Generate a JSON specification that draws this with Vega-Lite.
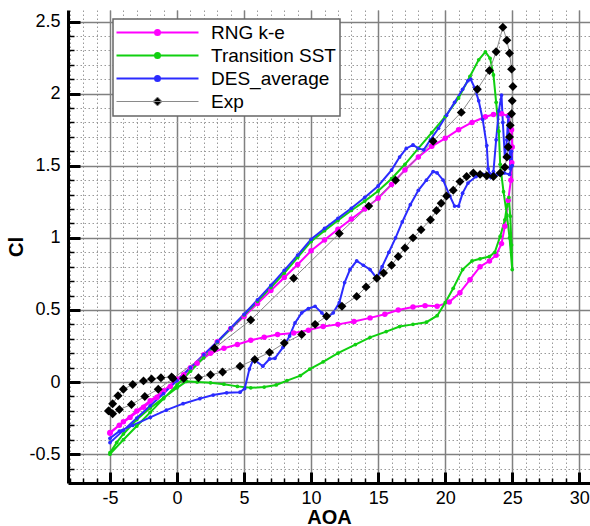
{
"$schema":"https://vega.github.io/schema/vega-lite/v6.json",
"width":522,"height":473,
"autosize":{"type":"none"},
"padding":{"left":68,"top":10,"right":0,"bottom":43},
"config":{"view":{"stroke":null},"font":"Liberation Sans"},
"datasets":{"d":[
{"s":"RNG k-e","i":0,"x":-5,"y":-0.35},{"s":"RNG k-e","i":1,"x":-4,"y":-0.275},{"s":"RNG k-e","i":2,"x":-3,"y":-0.2},{"s":"RNG k-e","i":3,"x":-2,"y":-0.13},{"s":"RNG k-e","i":4,"x":-1,"y":-0.06},{"s":"RNG k-e","i":5,"x":0,"y":0.02},{"s":"RNG k-e","i":6,"x":1,"y":0.1},{"s":"RNG k-e","i":7,"x":2,"y":0.19},{"s":"RNG k-e","i":8,"x":3,"y":0.28},{"s":"RNG k-e","i":9,"x":4,"y":0.37},{"s":"RNG k-e","i":10,"x":5,"y":0.455},{"s":"RNG k-e","i":11,"x":6,"y":0.545},{"s":"RNG k-e","i":12,"x":7,"y":0.635},{"s":"RNG k-e","i":13,"x":8,"y":0.725},{"s":"RNG k-e","i":14,"x":9,"y":0.815},{"s":"RNG k-e","i":15,"x":10,"y":0.91},{"s":"RNG k-e","i":16,"x":11,"y":0.985},{"s":"RNG k-e","i":17,"x":12,"y":1.06},{"s":"RNG k-e","i":18,"x":13,"y":1.13},{"s":"RNG k-e","i":19,"x":14,"y":1.2},{"s":"RNG k-e","i":20,"x":15,"y":1.275},{"s":"RNG k-e","i":21,"x":16,"y":1.37},{"s":"RNG k-e","i":22,"x":17,"y":1.47},{"s":"RNG k-e","i":23,"x":18,"y":1.56},{"s":"RNG k-e","i":24,"x":19,"y":1.635},{"s":"RNG k-e","i":25,"x":20,"y":1.69},{"s":"RNG k-e","i":26,"x":21,"y":1.75},{"s":"RNG k-e","i":27,"x":22,"y":1.8},{"s":"RNG k-e","i":28,"x":23,"y":1.84},{"s":"RNG k-e","i":29,"x":23.6,"y":1.855},{"s":"RNG k-e","i":30,"x":24.2,"y":1.86},{"s":"RNG k-e","i":31,"x":24.7,"y":1.845},
{"s":"RNG k-e","i":32,"x":24.95,"y":1.75},{"s":"RNG k-e","i":33,"x":25,"y":1.63},{"s":"RNG k-e","i":34,"x":24.97,"y":1.52},{"s":"RNG k-e","i":35,"x":24.9,"y":1.4},{"s":"RNG k-e","i":36,"x":24.7,"y":1.26},{"s":"RNG k-e","i":37,"x":24.45,"y":1.08},{"s":"RNG k-e","i":38,"x":24.2,"y":0.96},{"s":"RNG k-e","i":39,"x":23.8,"y":0.88},{"s":"RNG k-e","i":40,"x":23.3,"y":0.84},{"s":"RNG k-e","i":41,"x":22.6,"y":0.8},{"s":"RNG k-e","i":42,"x":21.85,"y":0.71},{"s":"RNG k-e","i":43,"x":21.1,"y":0.62},{"s":"RNG k-e","i":44,"x":20.3,"y":0.555},{"s":"RNG k-e","i":45,"x":19.4,"y":0.525},{"s":"RNG k-e","i":46,"x":18.5,"y":0.53},{"s":"RNG k-e","i":47,"x":17.6,"y":0.52},{"s":"RNG k-e","i":48,"x":16.5,"y":0.5},{"s":"RNG k-e","i":49,"x":15.5,"y":0.47},{"s":"RNG k-e","i":50,"x":14.4,"y":0.445},{"s":"RNG k-e","i":51,"x":13.2,"y":0.42},{"s":"RNG k-e","i":52,"x":12,"y":0.4},{"s":"RNG k-e","i":53,"x":10.9,"y":0.385},{"s":"RNG k-e","i":54,"x":9.8,"y":0.36},{"s":"RNG k-e","i":55,"x":8.7,"y":0.34},{"s":"RNG k-e","i":56,"x":7.5,"y":0.33},{"s":"RNG k-e","i":57,"x":6.5,"y":0.31},{"s":"RNG k-e","i":58,"x":5.5,"y":0.29},{"s":"RNG k-e","i":59,"x":4.5,"y":0.26},{"s":"RNG k-e","i":60,"x":3.5,"y":0.235},{"s":"RNG k-e","i":61,"x":2.5,"y":0.2},{"s":"RNG k-e","i":62,"x":1.5,"y":0.13},{"s":"RNG k-e","i":63,"x":0.5,"y":0.05},{"s":"RNG k-e","i":64,"x":-0.5,"y":-0.03},{"s":"RNG k-e","i":65,"x":-1.5,"y":-0.105},{"s":"RNG k-e","i":66,"x":-2.5,"y":-0.175},{"s":"RNG k-e","i":67,"x":-3.5,"y":-0.245},{"s":"RNG k-e","i":68,"x":-4.3,"y":-0.3},{"s":"RNG k-e","i":69,"x":-5,"y":-0.355},
{"s":"Transition SST","i":0,"x":-5,"y":-0.5},{"s":"Transition SST","i":1,"x":-4,"y":-0.4},{"s":"Transition SST","i":2,"x":-3,"y":-0.305},{"s":"Transition SST","i":3,"x":-2,"y":-0.21},{"s":"Transition SST","i":4,"x":-1,"y":-0.115},{"s":"Transition SST","i":5,"x":0,"y":-0.02},{"s":"Transition SST","i":6,"x":1,"y":0.075},{"s":"Transition SST","i":7,"x":2,"y":0.17},{"s":"Transition SST","i":8,"x":3,"y":0.275},{"s":"Transition SST","i":9,"x":4,"y":0.37},{"s":"Transition SST","i":10,"x":5,"y":0.465},{"s":"Transition SST","i":11,"x":6,"y":0.56},{"s":"Transition SST","i":12,"x":7,"y":0.655},{"s":"Transition SST","i":13,"x":8,"y":0.755},{"s":"Transition SST","i":14,"x":9,"y":0.865},{"s":"Transition SST","i":15,"x":10,"y":0.975},{"s":"Transition SST","i":16,"x":11,"y":1.05},{"s":"Transition SST","i":17,"x":12,"y":1.12},{"s":"Transition SST","i":18,"x":13,"y":1.19},{"s":"Transition SST","i":19,"x":14,"y":1.255},{"s":"Transition SST","i":20,"x":15,"y":1.325},{"s":"Transition SST","i":21,"x":16,"y":1.41},{"s":"Transition SST","i":22,"x":17,"y":1.51},{"s":"Transition SST","i":23,"x":18,"y":1.62},{"s":"Transition SST","i":24,"x":19,"y":1.73},{"s":"Transition SST","i":25,"x":20,"y":1.84},{"s":"Transition SST","i":26,"x":21,"y":1.97},{"s":"Transition SST","i":27,"x":21.85,"y":2.12},{"s":"Transition SST","i":28,"x":22.5,"y":2.235},{"s":"Transition SST","i":29,"x":23,"y":2.29},{"s":"Transition SST","i":30,"x":23.35,"y":2.245},{"s":"Transition SST","i":31,"x":23.6,"y":2.13},{"s":"Transition SST","i":32,"x":23.8,"y":1.94},{"s":"Transition SST","i":33,"x":24,"y":1.74},{"s":"Transition SST","i":34,"x":24.1,"y":1.51},{"s":"Transition SST","i":35,"x":24.35,"y":1.32},{"s":"Transition SST","i":36,"x":24.6,"y":1.16},{"s":"Transition SST","i":37,"x":24.8,"y":1.0},{"s":"Transition SST","i":38,"x":25,"y":0.78},
{"s":"Transition SST","i":39,"x":24.95,"y":0.95},{"s":"Transition SST","i":40,"x":24.85,"y":1.15},{"s":"Transition SST","i":41,"x":24.75,"y":1.28},{"s":"Transition SST","i":42,"x":24.6,"y":1.22},{"s":"Transition SST","i":43,"x":24.45,"y":1.125},{"s":"Transition SST","i":44,"x":24.1,"y":1.01},{"s":"Transition SST","i":45,"x":23.7,"y":0.9},{"s":"Transition SST","i":46,"x":23.3,"y":0.87},{"s":"Transition SST","i":47,"x":22.6,"y":0.855},{"s":"Transition SST","i":48,"x":22,"y":0.84},{"s":"Transition SST","i":49,"x":21.3,"y":0.78},{"s":"Transition SST","i":50,"x":20.6,"y":0.65},{"s":"Transition SST","i":51,"x":20,"y":0.55},{"s":"Transition SST","i":52,"x":19.4,"y":0.46},{"s":"Transition SST","i":53,"x":18.6,"y":0.415},{"s":"Transition SST","i":54,"x":17.6,"y":0.4},{"s":"Transition SST","i":55,"x":16.6,"y":0.385},{"s":"Transition SST","i":56,"x":15.6,"y":0.35},{"s":"Transition SST","i":57,"x":14.4,"y":0.31},{"s":"Transition SST","i":58,"x":13.3,"y":0.26},{"s":"Transition SST","i":59,"x":12,"y":0.2},{"s":"Transition SST","i":60,"x":10.9,"y":0.14},{"s":"Transition SST","i":61,"x":9.9,"y":0.09},{"s":"Transition SST","i":62,"x":9.2,"y":0.045},{"s":"Transition SST","i":63,"x":8.2,"y":0.01},{"s":"Transition SST","i":64,"x":7.4,"y":-0.02},{"s":"Transition SST","i":65,"x":6.5,"y":-0.035},{"s":"Transition SST","i":66,"x":5.5,"y":-0.04},{"s":"Transition SST","i":67,"x":4.5,"y":-0.03},{"s":"Transition SST","i":68,"x":3.5,"y":-0.015},{"s":"Transition SST","i":69,"x":2.5,"y":-0.005},{"s":"Transition SST","i":70,"x":1.5,"y":0.0},{"s":"Transition SST","i":71,"x":0.7,"y":0.005},{"s":"Transition SST","i":72,"x":0,"y":-0.04},{"s":"Transition SST","i":73,"x":-1,"y":-0.11},{"s":"Transition SST","i":74,"x":-2,"y":-0.18},{"s":"Transition SST","i":75,"x":-3,"y":-0.26},{"s":"Transition SST","i":76,"x":-4,"y":-0.36},{"s":"Transition SST","i":77,"x":-4.5,"y":-0.42},{"s":"Transition SST","i":78,"x":-5,"y":-0.49},
{"s":"DES_average","i":0,"x":-5,"y":-0.42},{"s":"DES_average","i":1,"x":-4,"y":-0.335},{"s":"DES_average","i":2,"x":-3,"y":-0.25},{"s":"DES_average","i":3,"x":-2,"y":-0.165},{"s":"DES_average","i":4,"x":-1,"y":-0.08},{"s":"DES_average","i":5,"x":0,"y":0.01},{"s":"DES_average","i":6,"x":1,"y":0.1},{"s":"DES_average","i":7,"x":2,"y":0.19},{"s":"DES_average","i":8,"x":3,"y":0.28},{"s":"DES_average","i":9,"x":4,"y":0.375},{"s":"DES_average","i":10,"x":5,"y":0.47},{"s":"DES_average","i":11,"x":6,"y":0.57},{"s":"DES_average","i":12,"x":7,"y":0.67},{"s":"DES_average","i":13,"x":8,"y":0.775},{"s":"DES_average","i":14,"x":9,"y":0.88},{"s":"DES_average","i":15,"x":10,"y":0.99},{"s":"DES_average","i":16,"x":11,"y":1.065},{"s":"DES_average","i":17,"x":12,"y":1.135},{"s":"DES_average","i":18,"x":13,"y":1.205},{"s":"DES_average","i":19,"x":14,"y":1.28},{"s":"DES_average","i":20,"x":15,"y":1.36},{"s":"DES_average","i":21,"x":16,"y":1.47},{"s":"DES_average","i":22,"x":16.6,"y":1.56},{"s":"DES_average","i":23,"x":17.1,"y":1.62},{"s":"DES_average","i":24,"x":17.6,"y":1.645},{"s":"DES_average","i":25,"x":18,"y":1.62},{"s":"DES_average","i":26,"x":18.4,"y":1.61},{"s":"DES_average","i":27,"x":18.9,"y":1.68},{"s":"DES_average","i":28,"x":19.5,"y":1.76},{"s":"DES_average","i":29,"x":20.1,"y":1.85},{"s":"DES_average","i":30,"x":20.7,"y":1.94},{"s":"DES_average","i":31,"x":21.3,"y":2.03},{"s":"DES_average","i":32,"x":21.7,"y":2.09},{"s":"DES_average","i":33,"x":21.9,"y":2.1},{"s":"DES_average","i":34,"x":22.2,"y":2.04},{"s":"DES_average","i":35,"x":22.5,"y":1.95},{"s":"DES_average","i":36,"x":22.8,"y":1.82},{"s":"DES_average","i":37,"x":23.1,"y":1.64},{"s":"DES_average","i":38,"x":23.2,"y":1.48},{"s":"DES_average","i":39,"x":23.4,"y":1.42},{"s":"DES_average","i":40,"x":23.6,"y":1.46},{"s":"DES_average","i":41,"x":23.8,"y":1.68},{"s":"DES_average","i":42,"x":24,"y":1.88},{"s":"DES_average","i":43,"x":24.2,"y":1.99},{"s":"DES_average","i":44,"x":24.3,"y":1.8},{"s":"DES_average","i":45,"x":24.45,"y":1.56},{"s":"DES_average","i":46,"x":24.6,"y":1.68},{"s":"DES_average","i":47,"x":24.7,"y":1.84},{"s":"DES_average","i":48,"x":24.8,"y":1.63},{"s":"DES_average","i":49,"x":24.85,"y":1.48},{"s":"DES_average","i":50,"x":24.95,"y":1.6},{"s":"DES_average","i":51,"x":25,"y":1.5},
{"s":"DES_average","i":52,"x":24.8,"y":1.44},{"s":"DES_average","i":53,"x":24.4,"y":1.45},{"s":"DES_average","i":54,"x":23.9,"y":1.44},{"s":"DES_average","i":55,"x":23.3,"y":1.445},{"s":"DES_average","i":56,"x":22.8,"y":1.44},{"s":"DES_average","i":57,"x":22.3,"y":1.425},{"s":"DES_average","i":58,"x":21.7,"y":1.38},{"s":"DES_average","i":59,"x":21.3,"y":1.31},{"s":"DES_average","i":60,"x":21,"y":1.22},{"s":"DES_average","i":61,"x":20.7,"y":1.22},{"s":"DES_average","i":62,"x":20.35,"y":1.29},{"s":"DES_average","i":63,"x":19.85,"y":1.4},{"s":"DES_average","i":64,"x":19.4,"y":1.45},{"s":"DES_average","i":65,"x":19.1,"y":1.46},{"s":"DES_average","i":66,"x":18.6,"y":1.4},{"s":"DES_average","i":67,"x":18,"y":1.33},{"s":"DES_average","i":68,"x":17.4,"y":1.23},{"s":"DES_average","i":69,"x":16.8,"y":1.11},{"s":"DES_average","i":70,"x":16.3,"y":1.0},{"s":"DES_average","i":71,"x":15.8,"y":0.9},{"s":"DES_average","i":72,"x":15.3,"y":0.8},{"s":"DES_average","i":73,"x":14.9,"y":0.72},{"s":"DES_average","i":74,"x":14.4,"y":0.78},{"s":"DES_average","i":75,"x":13.9,"y":0.81},{"s":"DES_average","i":76,"x":13.4,"y":0.84},{"s":"DES_average","i":77,"x":12.9,"y":0.78},{"s":"DES_average","i":78,"x":12.5,"y":0.69},{"s":"DES_average","i":79,"x":12.1,"y":0.55},{"s":"DES_average","i":80,"x":11.65,"y":0.48},{"s":"DES_average","i":81,"x":11.15,"y":0.445},{"s":"DES_average","i":82,"x":10.8,"y":0.48},{"s":"DES_average","i":83,"x":10.3,"y":0.525},{"s":"DES_average","i":84,"x":9.8,"y":0.51},{"s":"DES_average","i":85,"x":9.3,"y":0.48},{"s":"DES_average","i":86,"x":8.8,"y":0.41},{"s":"DES_average","i":87,"x":8.4,"y":0.32},{"s":"DES_average","i":88,"x":7.9,"y":0.24},{"s":"DES_average","i":89,"x":7.3,"y":0.165},{"s":"DES_average","i":90,"x":6.9,"y":0.16},{"s":"DES_average","i":91,"x":6.4,"y":0.11},{"s":"DES_average","i":92,"x":5.7,"y":0.16},{"s":"DES_average","i":93,"x":5.4,"y":0.09},{"s":"DES_average","i":94,"x":5.05,"y":-0.045},{"s":"DES_average","i":95,"x":4.7,"y":-0.07},{"s":"DES_average","i":96,"x":3.7,"y":-0.075},{"s":"DES_average","i":97,"x":2.7,"y":-0.09},{"s":"DES_average","i":98,"x":1.7,"y":-0.115},{"s":"DES_average","i":99,"x":0.45,"y":-0.15},{"s":"DES_average","i":100,"x":-0.8,"y":-0.195},{"s":"DES_average","i":101,"x":-2,"y":-0.245},{"s":"DES_average","i":102,"x":-3.3,"y":-0.3},{"s":"DES_average","i":103,"x":-4.3,"y":-0.34},{"s":"DES_average","i":104,"x":-5,"y":-0.39},
{"s":"Exp","i":0,"x":-5.1,"y":-0.2},{"s":"Exp","i":1,"x":-4.8,"y":-0.22},{"s":"Exp","i":2,"x":-4.3,"y":-0.19},{"s":"Exp","i":3,"x":-3.4,"y":-0.156},{"s":"Exp","i":4,"x":-2.4,"y":-0.1},{"s":"Exp","i":5,"x":-1.4,"y":-0.05},{"s":"Exp","i":6,"x":-0.3,"y":0.025},{"s":"Exp","i":7,"x":2.8,"y":0.235},{"s":"Exp","i":8,"x":5.5,"y":0.43},{"s":"Exp","i":9,"x":8.7,"y":0.72},{"s":"Exp","i":10,"x":12.1,"y":1.03},{"s":"Exp","i":11,"x":14.3,"y":1.22},{"s":"Exp","i":12,"x":16.3,"y":1.4},{"s":"Exp","i":13,"x":19.1,"y":1.67},{"s":"Exp","i":14,"x":21.2,"y":1.87},{"s":"Exp","i":15,"x":22.4,"y":2.03},{"s":"Exp","i":16,"x":23.3,"y":2.16},{"s":"Exp","i":17,"x":23.8,"y":2.29},{"s":"Exp","i":18,"x":24.3,"y":2.46},
{"s":"Exp","i":19,"x":24.6,"y":2.37},{"s":"Exp","i":20,"x":24.8,"y":2.28},{"s":"Exp","i":21,"x":24.95,"y":2.17},{"s":"Exp","i":22,"x":25.05,"y":2.05},{"s":"Exp","i":23,"x":25,"y":1.95},{"s":"Exp","i":24,"x":24.95,"y":1.86},{"s":"Exp","i":25,"x":24.85,"y":1.78},{"s":"Exp","i":26,"x":24.8,"y":1.7},{"s":"Exp","i":27,"x":24.7,"y":1.63},{"s":"Exp","i":28,"x":24.6,"y":1.56},{"s":"Exp","i":29,"x":24.45,"y":1.49},{"s":"Exp","i":30,"x":24.1,"y":1.45},{"s":"Exp","i":31,"x":23.6,"y":1.425},{"s":"Exp","i":32,"x":23.1,"y":1.43},{"s":"Exp","i":33,"x":22.6,"y":1.44},{"s":"Exp","i":34,"x":22.1,"y":1.45},{"s":"Exp","i":35,"x":21.6,"y":1.425},{"s":"Exp","i":36,"x":21.1,"y":1.39},{"s":"Exp","i":37,"x":20.6,"y":1.33},{"s":"Exp","i":38,"x":20.1,"y":1.29},{"s":"Exp","i":39,"x":19.7,"y":1.24},{"s":"Exp","i":40,"x":19.35,"y":1.19},{"s":"Exp","i":41,"x":18.9,"y":1.125},{"s":"Exp","i":42,"x":18.2,"y":1.056},{"s":"Exp","i":43,"x":17.6,"y":1.0},{"s":"Exp","i":44,"x":17,"y":0.93},{"s":"Exp","i":45,"x":16.5,"y":0.87},{"s":"Exp","i":46,"x":16,"y":0.81},{"s":"Exp","i":47,"x":15.4,"y":0.756},{"s":"Exp","i":48,"x":14.9,"y":0.72},{"s":"Exp","i":49,"x":14.1,"y":0.66},{"s":"Exp","i":50,"x":13.4,"y":0.594},{"s":"Exp","i":51,"x":12.3,"y":0.525},{"s":"Exp","i":52,"x":11.15,"y":0.456},{"s":"Exp","i":53,"x":10.3,"y":0.4},{"s":"Exp","i":54,"x":9.3,"y":0.33},{"s":"Exp","i":55,"x":8,"y":0.27},{"s":"Exp","i":56,"x":6.9,"y":0.206},{"s":"Exp","i":57,"x":5.8,"y":0.156},{"s":"Exp","i":58,"x":4.7,"y":0.11},{"s":"Exp","i":59,"x":3.4,"y":0.07},{"s":"Exp","i":60,"x":2.5,"y":0.05},{"s":"Exp","i":61,"x":1.6,"y":0.03},{"s":"Exp","i":62,"x":0.5,"y":0.025},{"s":"Exp","i":63,"x":-0.4,"y":0.035},{"s":"Exp","i":64,"x":-1.2,"y":0.03},{"s":"Exp","i":65,"x":-1.9,"y":0.022},{"s":"Exp","i":66,"x":-2.5,"y":0.008},{"s":"Exp","i":67,"x":-3.3,"y":-0.017},{"s":"Exp","i":68,"x":-4,"y":-0.05},{"s":"Exp","i":69,"x":-4.4,"y":-0.095},{"s":"Exp","i":70,"x":-4.8,"y":-0.15},{"s":"Exp","i":71,"x":-5.1,"y":-0.2}
]},
"data":{"name":"d"},
"layer":[
{"mark":{"type":"line","clip":true},
 "encoding":{
  "x":{"field":"x","type":"quantitative","scale":{"domain":[-8.13,30.8],"nice":false,"zero":false},
   "axis":{"orient":"bottom","values":[-8,-7,-6,-5,-4,-3,-2,-1,0,1,2,3,4,5,6,7,8,9,10,11,12,13,14,15,16,17,18,19,20,21,22,23,24,25,26,27,28,29,30],"grid":true,"gridDash":[1.5,2.5],"gridColor":"#9a9a9a","gridWidth":1,"ticks":true,"tickSize":-5,"tickColor":"#000000","tickWidth":1.5,"labels":false,"domain":false,"title":null}},
  "y":{"field":"y","type":"quantitative","scale":{"domain":[-0.7,2.58],"nice":false,"zero":false},
   "axis":{"orient":"left","values":[-0.6,-0.5,-0.4,-0.3,-0.2,-0.1,0,0.1,0.2,0.3,0.4,0.5,0.6,0.7,0.8,0.9,1,1.1,1.2,1.3,1.4,1.5,1.6,1.7,1.8,1.9,2,2.1,2.2,2.3,2.4,2.5],"grid":true,"gridDash":[1.5,2.5],"gridColor":"#9a9a9a","gridWidth":1,"ticks":true,"tickSize":-6,"tickColor":"#000000","tickWidth":1.5,"labels":false,"domain":false,"title":null}},
  "color":{"field":"s","type":"nominal","scale":{"domain":["RNG k-e","Transition SST","DES_average","Exp"],"range":["#ff00ff","#10d010","#2b2bff","#8a8a8a"]},
   "legend":{"orient":"none","legendX":45,"legendY":9,"title":null,"padding":4,"fillColor":"#ffffff","strokeColor":"#666666","labelFontSize":19,"labelFont":"Liberation Sans","labelColor":"#000000",
    "symbolType":"M-8.2,0H8.2M0.5,0A0.5,0.5,0,1,1,-0.5,0A0.5,0.5,0,1,1,0.5,0Z","symbolSize":100,"symbolStrokeWidth":2,"symbolOffset":31,"labelOffset":44,"rowPadding":3,
    "encode":{"legend":{"update":{"strokeWidth":{"value":1.5}}},
     "symbols":{"update":{
     "shape":{"signal":"datum.value === 'Exp' ? 'M-8.2,0H8.2M0,-0.9L0.9,0L0,0.9L-0.9,0Z' : 'M-8.2,0H8.2M0.5,0A0.5,0.5,0,1,1,-0.5,0A0.5,0.5,0,1,1,0.5,0Z'"},
     "fill":{"signal":"datum.value === 'RNG k-e' ? '#ff00ff' : datum.value === 'Transition SST' ? '#10d010' : datum.value === 'DES_average' ? '#2b2bff' : '#000000'"},
     "stroke":{"signal":"datum.value === 'RNG k-e' ? '#ff00ff' : datum.value === 'Transition SST' ? '#10d010' : datum.value === 'DES_average' ? '#2b2bff' : '#8a8a8a'"},
     "strokeWidth":{"signal":"datum.value === 'Exp' ? 1 : 2"},
     "strokeOpacity":{"value":1},"fillOpacity":{"value":1},
     "opacity":{"value":1}}}}}},
  "strokeWidth":{"condition":{"test":"datum.s === 'Exp'","value":1},"value":2},
  "order":{"field":"i","type":"quantitative"}
 }},
{"mark":{"type":"point","filled":true,"opacity":1,"clip":true},
 "encoding":{
  "x":{"field":"x","type":"quantitative",
   "axis":{"orient":"bottom","values":[-5,0,5,10,15,20,25,30],"grid":true,"gridColor":"#808080","gridWidth":1.5,"ticks":true,"tickSize":-11,"tickColor":"#000000","tickWidth":3,"domain":true,"domainColor":"#000000","domainWidth":3,"labelFontSize":18,"labelColor":"#000000","labelPadding":17,"labelExpr":"datum.value < 0 ? '-' + (-datum.value) : '' + datum.value","title":"AOA","titleFontSize":20,"titleFontWeight":"bold","titleColor":"#000000","titlePadding":0}},
  "y":{"field":"y","type":"quantitative",
   "axis":{"orient":"left","values":[-0.5,0,0.5,1,1.5,2,2.5],"grid":true,"gridColor":"#808080","gridWidth":1.5,"ticks":true,"tickSize":-12,"tickColor":"#000000","tickWidth":3,"domain":true,"domainColor":"#000000","domainWidth":3,"labelFontSize":18,"labelColor":"#000000","labelPadding":20,"labelExpr":"datum.value < 0 ? '-' + (-datum.value) : '' + datum.value","title":"Cl","titleFontSize":20,"titleFontWeight":"bold","titleColor":"#000000","titlePadding":2}},
  "shape":{"condition":{"test":"datum.s === 'Exp'","value":"diamond"},"value":"circle"},
  "fill":{"condition":[{"test":"datum.s === 'RNG k-e'","value":"#ff00ff"},{"test":"datum.s === 'Transition SST'","value":"#10d010"},{"test":"datum.s === 'DES_average'","value":"#2b2bff"}],"value":"#000000"},
  "size":{"condition":[{"test":"datum.s === 'Exp'","value":80},{"test":"datum.s === 'RNG k-e'","value":30}],"value":14}
 }}
],
"resolve":{"axis":{"x":"independent","y":"independent"}}
}
